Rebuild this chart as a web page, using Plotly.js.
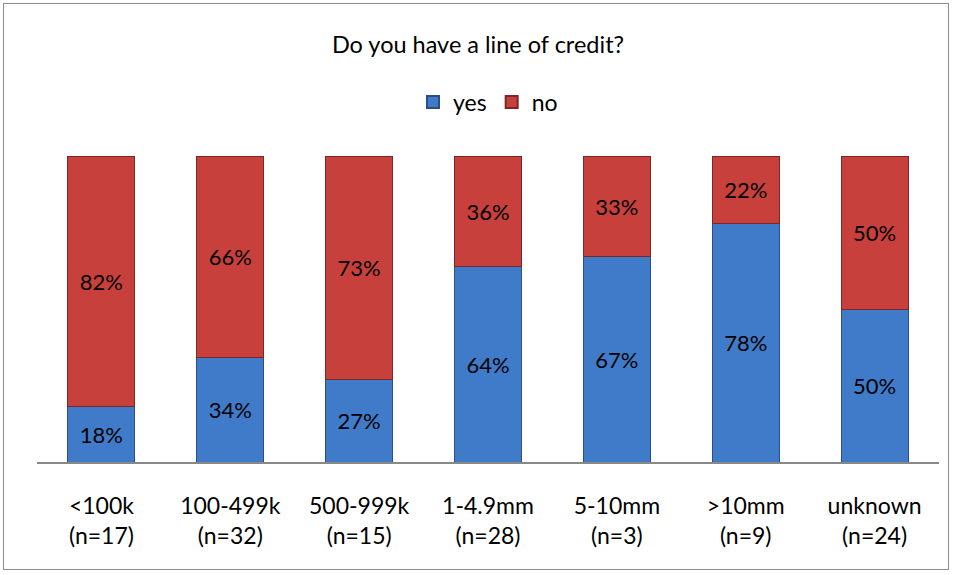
<!DOCTYPE html>
<html>
<head>
<meta charset="utf-8">
<script src="https://cdn.plot.ly/plotly-3.0.1.min.js"></script>
<style>
  html, body { margin: 0; padding: 0; background: #fff; }
  #frame { position: absolute; left: 3px; top: 3px; width: 946px; height: 567px; border: 1px solid #8c8c8c; box-sizing: border-box; }
  #chart { position: absolute; left: 0; top: 0; width: 956px; height: 575px; }
</style>
</head>
<body>
<div id="frame"></div>
<div id="chart"></div>
<script>
const categories = ["<100k<br>(n=17)", "100-499k<br>(n=32)", "500-999k<br>(n=15)", "1-4.9mm<br>(n=28)", "5-10mm<br>(n=3)", ">10mm<br>(n=9)", "unknown<br>(n=24)"];
const yesValues = [18, 34, 27, 64, 67, 78, 50];
const noValues = [82, 66, 73, 36, 33, 22, 50];
const seriesNames = ["yes", "no"];

const FONT = "Lato, 'Open Sans', 'Liberation Sans', sans-serif";

const traces = [
  {
    type: "bar", name: seriesNames[0], x: categories, y: yesValues,
    text: yesValues.map(v => v + "%"), textposition: "inside", insidetextanchor: "middle",
    textfont: { size: 22, color: "#000", family: FONT }, constraintext: "none",
    marker: { color: "#3f7bc9", line: { color: "#2a4f80", width: 1 } },
    hoverinfo: "none"
  },
  {
    type: "bar", name: seriesNames[1], x: categories, y: noValues,
    text: noValues.map(v => v + "%"), textposition: "inside", insidetextanchor: "middle",
    textfont: { size: 22, color: "#000", family: FONT }, constraintext: "none",
    marker: { color: "#c8403c", line: { color: "#7e2624", width: 1 } },
    hoverinfo: "none"
  }
];

const layout = {
  width: 956, height: 575,
  margin: { l: 37, r: 17, t: 156, b: 113 },
  paper_bgcolor: "rgba(0,0,0,0)", plot_bgcolor: "rgba(0,0,0,0)",
  barmode: "stack", bargap: 0.48,
  font: { family: FONT, size: 23, color: "#000" },
  title: { text: "Do you have a line of credit?", font: { size: 23.5, family: FONT, color: "#000" }, x: 0.5, xanchor: "center", y: 1 - 45 / 575, yanchor: "middle" },
  showlegend: true,
  legend: { orientation: "h", x: 0.5, xanchor: "center", y: (462 - 102) / 306, yanchor: "middle", font: { size: 23, family: FONT }, traceorder: "normal", itemwidth: 30, itemsizing: "constant" },
  xaxis: { showline: true, linecolor: "#888", linewidth: 2, ticks: "", tickfont: { size: 23, family: FONT }, ticklabelstandoff: 22, fixedrange: true },
  yaxis: { range: [0, 100], showgrid: false, showticklabels: false, zeroline: false, showline: false, fixedrange: true }
};

Plotly.newPlot("chart", traces, layout, { displayModeBar: false, staticPlot: true });
</script>
</body>
</html>
